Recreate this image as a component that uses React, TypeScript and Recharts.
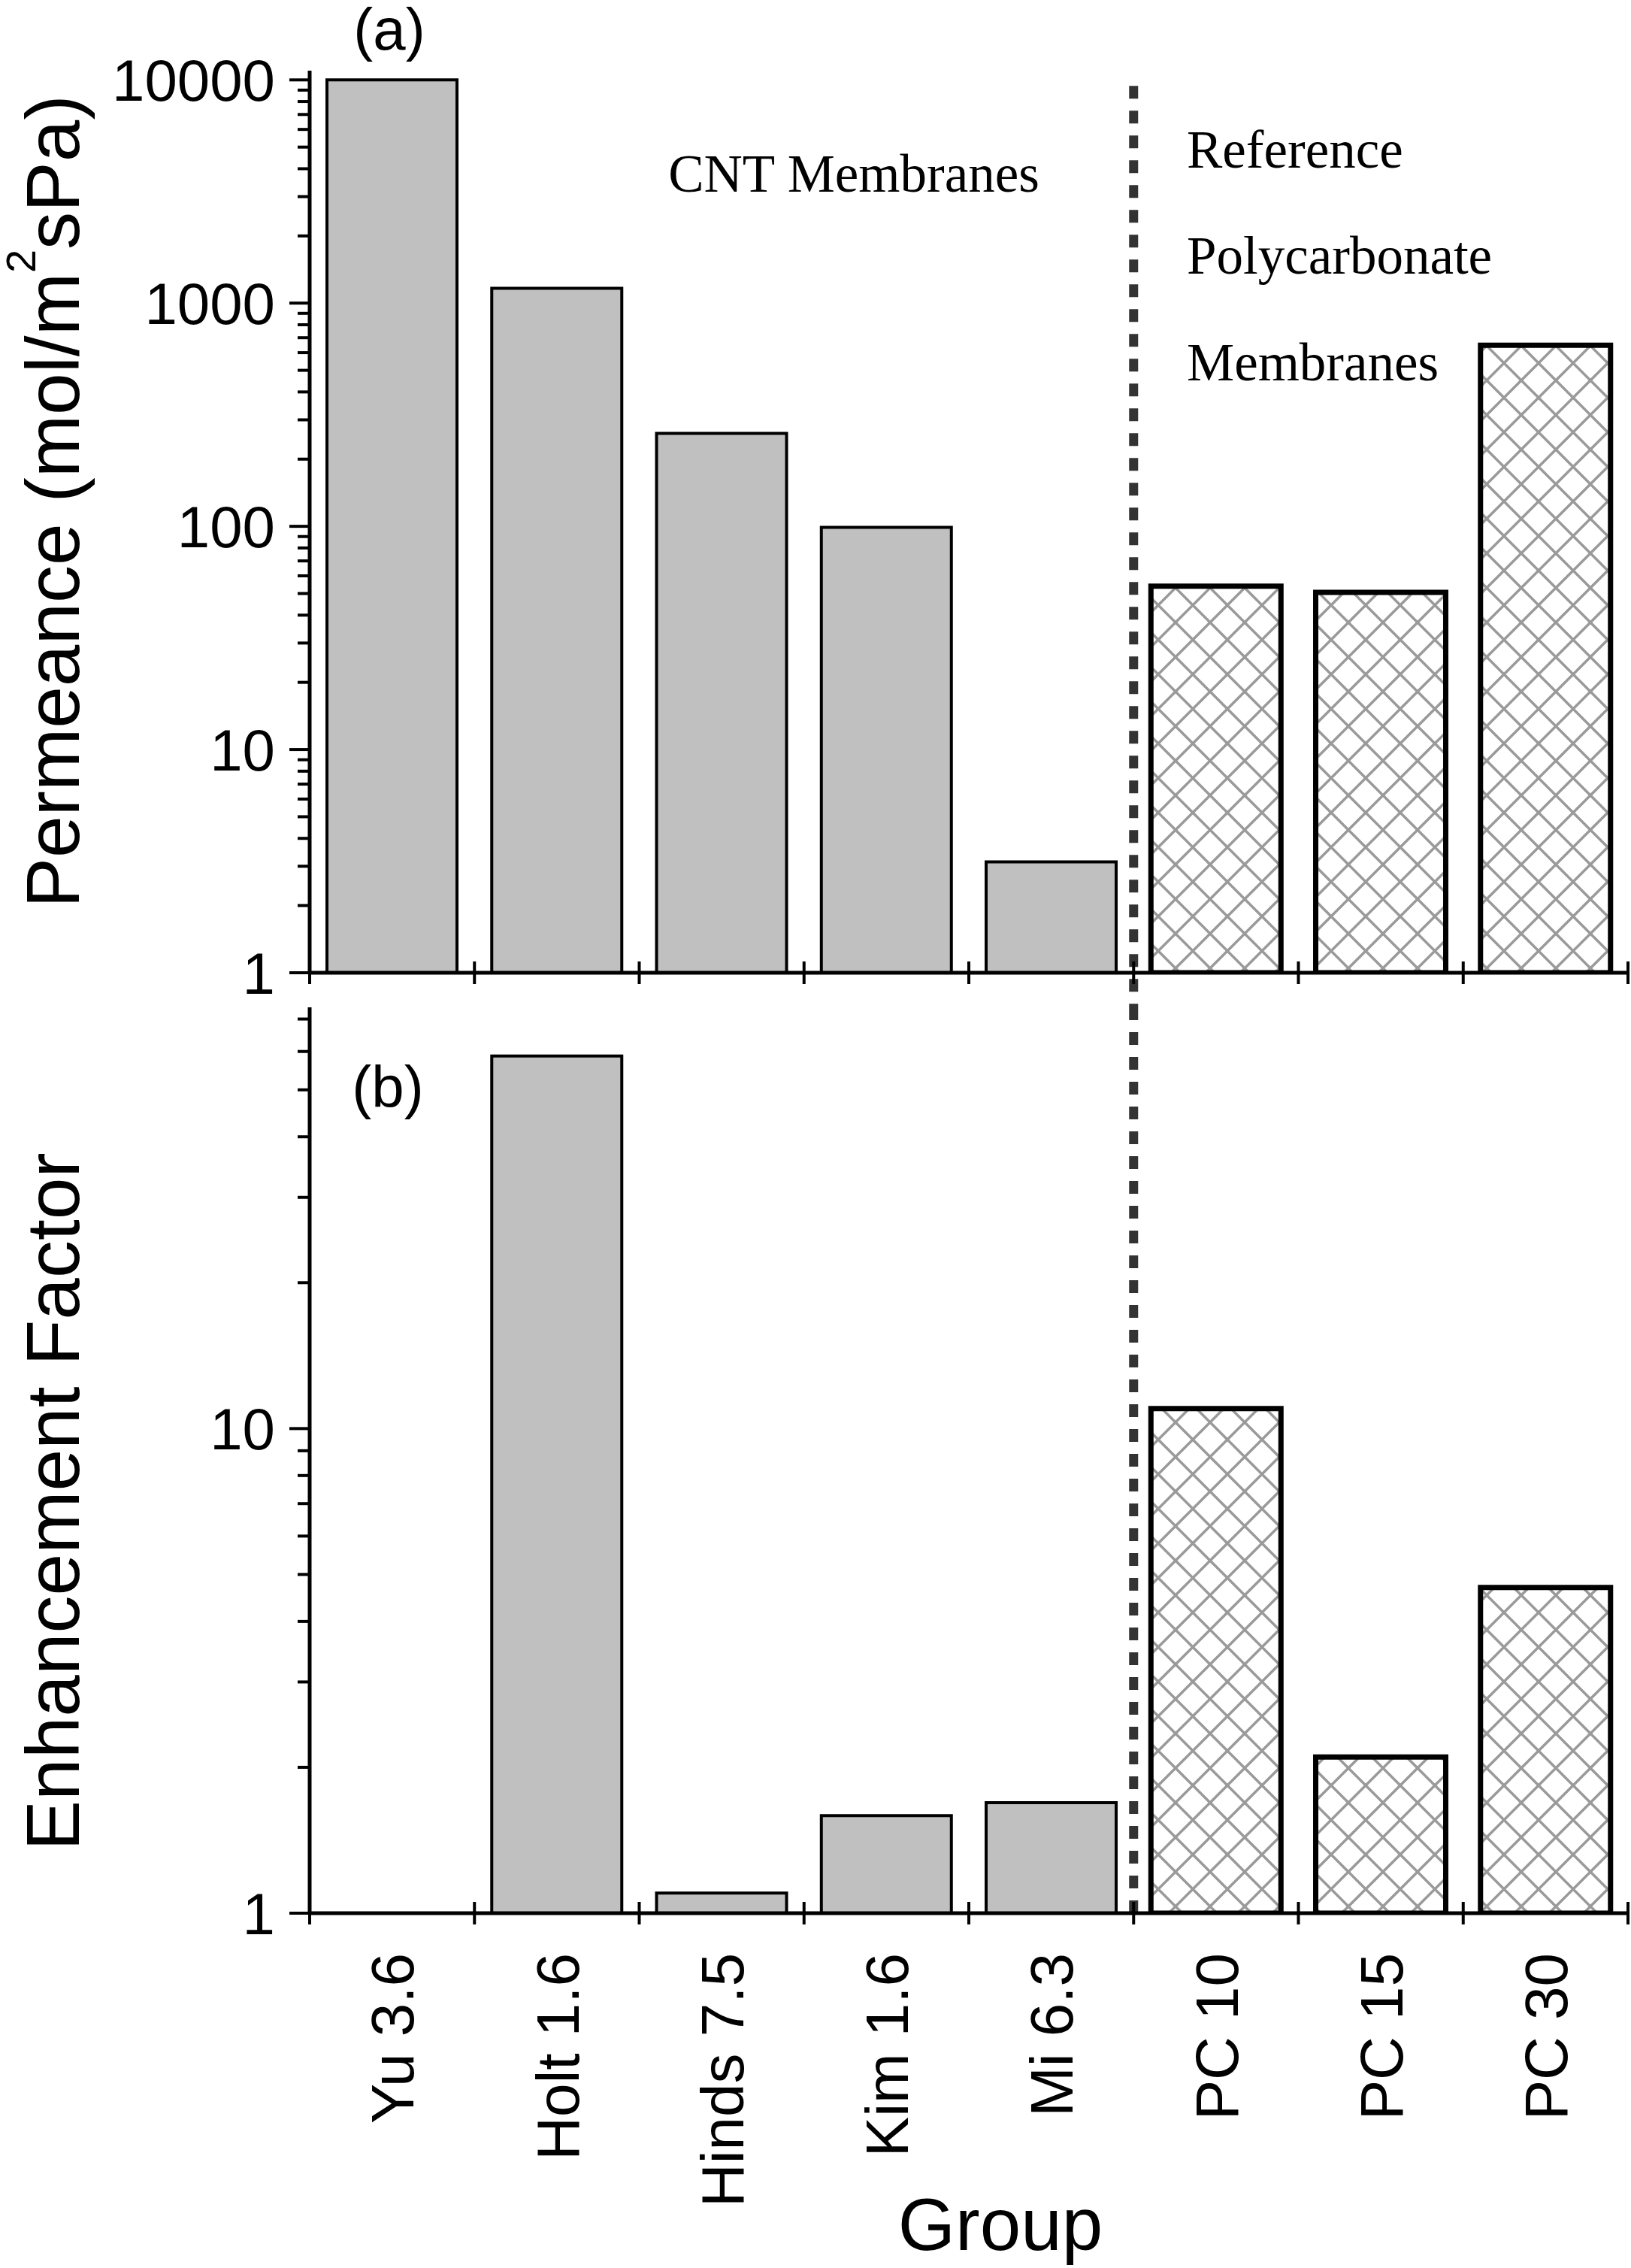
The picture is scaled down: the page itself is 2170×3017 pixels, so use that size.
import React from 'react';
import { BarChart, Bar, XAxis, YAxis, Cell, ReferenceLine } from 'recharts';

// membrane groups (pore diameter in nm after the name)
const groups = ['Yu 3.6', 'Holt 1.6', 'Hinds 7.5', 'Kim 1.6', 'Mi 6.3', 'PC 10', 'PC 15', 'PC 30'];
const membraneType = ['CNT', 'CNT', 'CNT', 'CNT', 'CNT', 'PC', 'PC', 'PC'];

// (a) permeance, mol/m2sPa
const permeance = [10000, 1165, 261, 99, 3.14, 53.9, 50.6, 648];
// (b) enhancement factor (no value for Yu)
const enhancement = [null, 58.7, 1.1, 1.59, 1.69, 11.0, 2.1, 4.7];

const permeanceMajor = [1, 10, 100, 1000, 10000];
const permeanceMinor = [
  2, 3, 4, 5, 6, 7, 8, 9,
  20, 30, 40, 50, 60, 70, 80, 90,
  200, 300, 400, 500, 600, 700, 800, 900,
  2000, 3000, 4000, 5000, 6000, 7000, 8000, 9000,
];
const enhancementMajor = [1, 10];
const enhancementMinor = [2, 3, 4, 5, 6, 7, 8, 9, 20, 30, 40, 50, 60, 70];

const SANS = 'Arial, "Liberation Sans", sans-serif';
const SERIF = '"Times New Roman", "Liberation Serif", serif';

const W = 2170;
const AXIS_W = 412;
const RIGHT = 4;
const BAND = (W - AXIS_W - RIGHT) / groups.length;

const permData = groups.map((g, i) => ({ group: g, type: membraneType[i], value: permeance[i] }));
const enhData = groups.map((g, i) => ({ group: g, type: membraneType[i], value: enhancement[i] }));

function LogTick(props: any) {
  const { x, y, payload, majors } = props;
  const major = majors.includes(payload.value);
  return (
    <g>
      <line x1={x - (major ? 27 : 16)} x2={x} y1={y} y2={y} stroke="#000" strokeWidth={4} />
      {major && (
        <text x={x - 46} y={y} dy="0.36em" textAnchor="end" fontSize={78} fontFamily={SANS} fill="#000">
          {payload.value}
        </text>
      )}
    </g>
  );
}

function BandTick(props: any) {
  const { x, y, payload, index, visibleTicksCount, showLabel } = props;
  const half = BAND / 2;
  const marks = [x - half];
  if (index === visibleTicksCount - 1) marks.push(x + half);
  return (
    <g>
      {marks.map((mx, i) => (
        <line key={i} x1={mx} x2={mx} y1={y - 15} y2={y + 15} stroke="#000" strokeWidth={4} />
      ))}
      {showLabel && (
        <text
          transform={`translate(${x},${y + 53}) rotate(-90)`}
          dy="0.36em"
          textAnchor="end"
          fontSize={80}
          fontFamily={SANS}
          fill="#000"
        >
          {payload.value}
        </text>
      )}
    </g>
  );
}

function Hatch({ id }: { id: string }) {
  return (
    <defs>
      <pattern id={id} patternUnits="userSpaceOnUse" width={46} height={46}>
        <rect width={46} height={46} fill="#fff" />
        <path d="M0 0 L46 46 M46 0 L0 46" stroke="#9a9a9a" strokeWidth={3.5} />
      </pattern>
    </defs>
  );
}

function cells(data: any[], hatchId: string) {
  return data.map((d, i) =>
    d.type === 'PC' ? (
      <Cell key={i} fill={`url(#${hatchId})`} stroke="#000" strokeWidth={7} />
    ) : (
      <Cell key={i} fill="#c0c0c0" stroke="#000" strokeWidth={4} />
    )
  );
}

const axisLine = { stroke: '#000', strokeWidth: 5 };

export default function App() {
  return (
    <div style={{ position: 'absolute', left: 0, top: 0, width: W, height: 3017, background: '#fff' }}>
      <div style={{ position: 'absolute', left: 0, top: 0 }}>
        <BarChart width={W} height={1340} data={permData} margin={{ top: 94, right: RIGHT, left: 0, bottom: 0 }} barCategoryGap="10.5%">
          <Hatch id="hatchA" />
          <XAxis
            dataKey="group"
            height={46}
            interval={0}
            tickSize={0}
            tickMargin={0}
            tickLine={false}
            axisLine={axisLine}
            tick={<BandTick showLabel={false} />}
          />
          <YAxis
            type="number"
            scale="log"
            domain={[1, 11000]}
            allowDataOverflow
            ticks={[...permeanceMajor, ...permeanceMinor]}
            interval={0}
            width={AXIS_W}
            tickSize={0}
            tickMargin={0}
            tickLine={false}
            axisLine={axisLine}
            tick={<LogTick majors={permeanceMajor} />}
            label={{
              content: (p: any) => {
                const vb = p.viewBox || { y: 94, height: 1200 };
                const cy = vb.y + vb.height / 2 - 27;
                return (
                  <text transform={`translate(105,${cy}) rotate(-90)`} textAnchor="middle" fontSize={100} fontFamily={SANS} fill="#000">
                    Permeance (mol/m
                    <tspan dy={-58} fontSize={56}>2</tspan>
                    <tspan dy={58}>sPa)</tspan>
                  </text>
                );
              },
            }}
          />
          <Bar dataKey="value" isAnimationActive={false}>
            {cells(permData, 'hatchA')}
          </Bar>
          <ReferenceLine
            segment={[{ x: 'PC 10', y: 9400 }, { x: 'PC 10', y: 0.7 }]}
            position="start"
            ifOverflow="visible"
            stroke="#333"
            strokeWidth={12}
            strokeDasharray="17 16"
          />
        </BarChart>
      </div>
      <div style={{ position: 'absolute', left: 0, top: 1340 }}>
        <BarChart width={W} height={1677} data={enhData} margin={{ top: 0, right: RIGHT, left: 0, bottom: 0 }} barCategoryGap="10.5%">
          <Hatch id="hatchB" />
          <XAxis
            dataKey="group"
            height={472}
            interval={0}
            tickSize={0}
            tickMargin={0}
            tickLine={false}
            axisLine={axisLine}
            tick={<BandTick showLabel />}
            label={{
              content: (p: any) => {
                const vb = p.viewBox || { x: 412, y: 1205, width: 1754 };
                return (
                  <text x={vb.x + vb.width / 2 + 42} y={vb.y + 448} textAnchor="middle" fontSize={98} fontFamily={SANS} fill="#000">
                    Group
                  </text>
                );
              },
            }}
          />
          <YAxis
            type="number"
            scale="log"
            domain={[1, 74]}
            allowDataOverflow
            ticks={[...enhancementMajor, ...enhancementMinor]}
            interval={0}
            width={AXIS_W}
            tickSize={0}
            tickMargin={0}
            tickLine={false}
            axisLine={axisLine}
            tick={<LogTick majors={enhancementMajor} />}
            label={{
              content: (p: any) => {
                const vb = p.viewBox || { y: 0, height: 1205 };
                const cy = vb.y + vb.height / 2 + 55;
                return (
                  <text transform={`translate(105,${cy}) rotate(-90)`} textAnchor="middle" fontSize={100} fontFamily={SANS} fill="#000">
                    Enhancement Factor
                  </text>
                );
              },
            }}
          />
          <Bar dataKey="value" isAnimationActive={false}>
            {cells(enhData, 'hatchB')}
          </Bar>
          <ReferenceLine
            segment={[{ x: 'PC 10', y: 74 }, { x: 'PC 10', y: 1 }]}
            position="start"
            ifOverflow="visible"
            stroke="#333"
            strokeWidth={12}
            strokeDasharray="17 16"
          />
        </BarChart>
      </div>
      <svg width={W} height={3017} style={{ position: 'absolute', left: 0, top: 0, pointerEvents: 'none' }}>
        <text x={518} y={66} textAnchor="middle" fontSize={78} fontFamily={SANS}>(a)</text>
        <text x={516} y={1473} textAnchor="middle" fontSize={78} fontFamily={SANS}>(b)</text>
        <text x={1136} y={255} textAnchor="middle" fontSize={71} fontFamily={SERIF}>CNT Membranes</text>
        <text x={1579} y={223} fontSize={71} fontFamily={SERIF}>Reference</text>
        <text x={1579} y={364} fontSize={71} fontFamily={SERIF}>Polycarbonate</text>
        <text x={1579} y={506} fontSize={71} fontFamily={SERIF}>Membranes</text>
      </svg>
    </div>
  );
}
